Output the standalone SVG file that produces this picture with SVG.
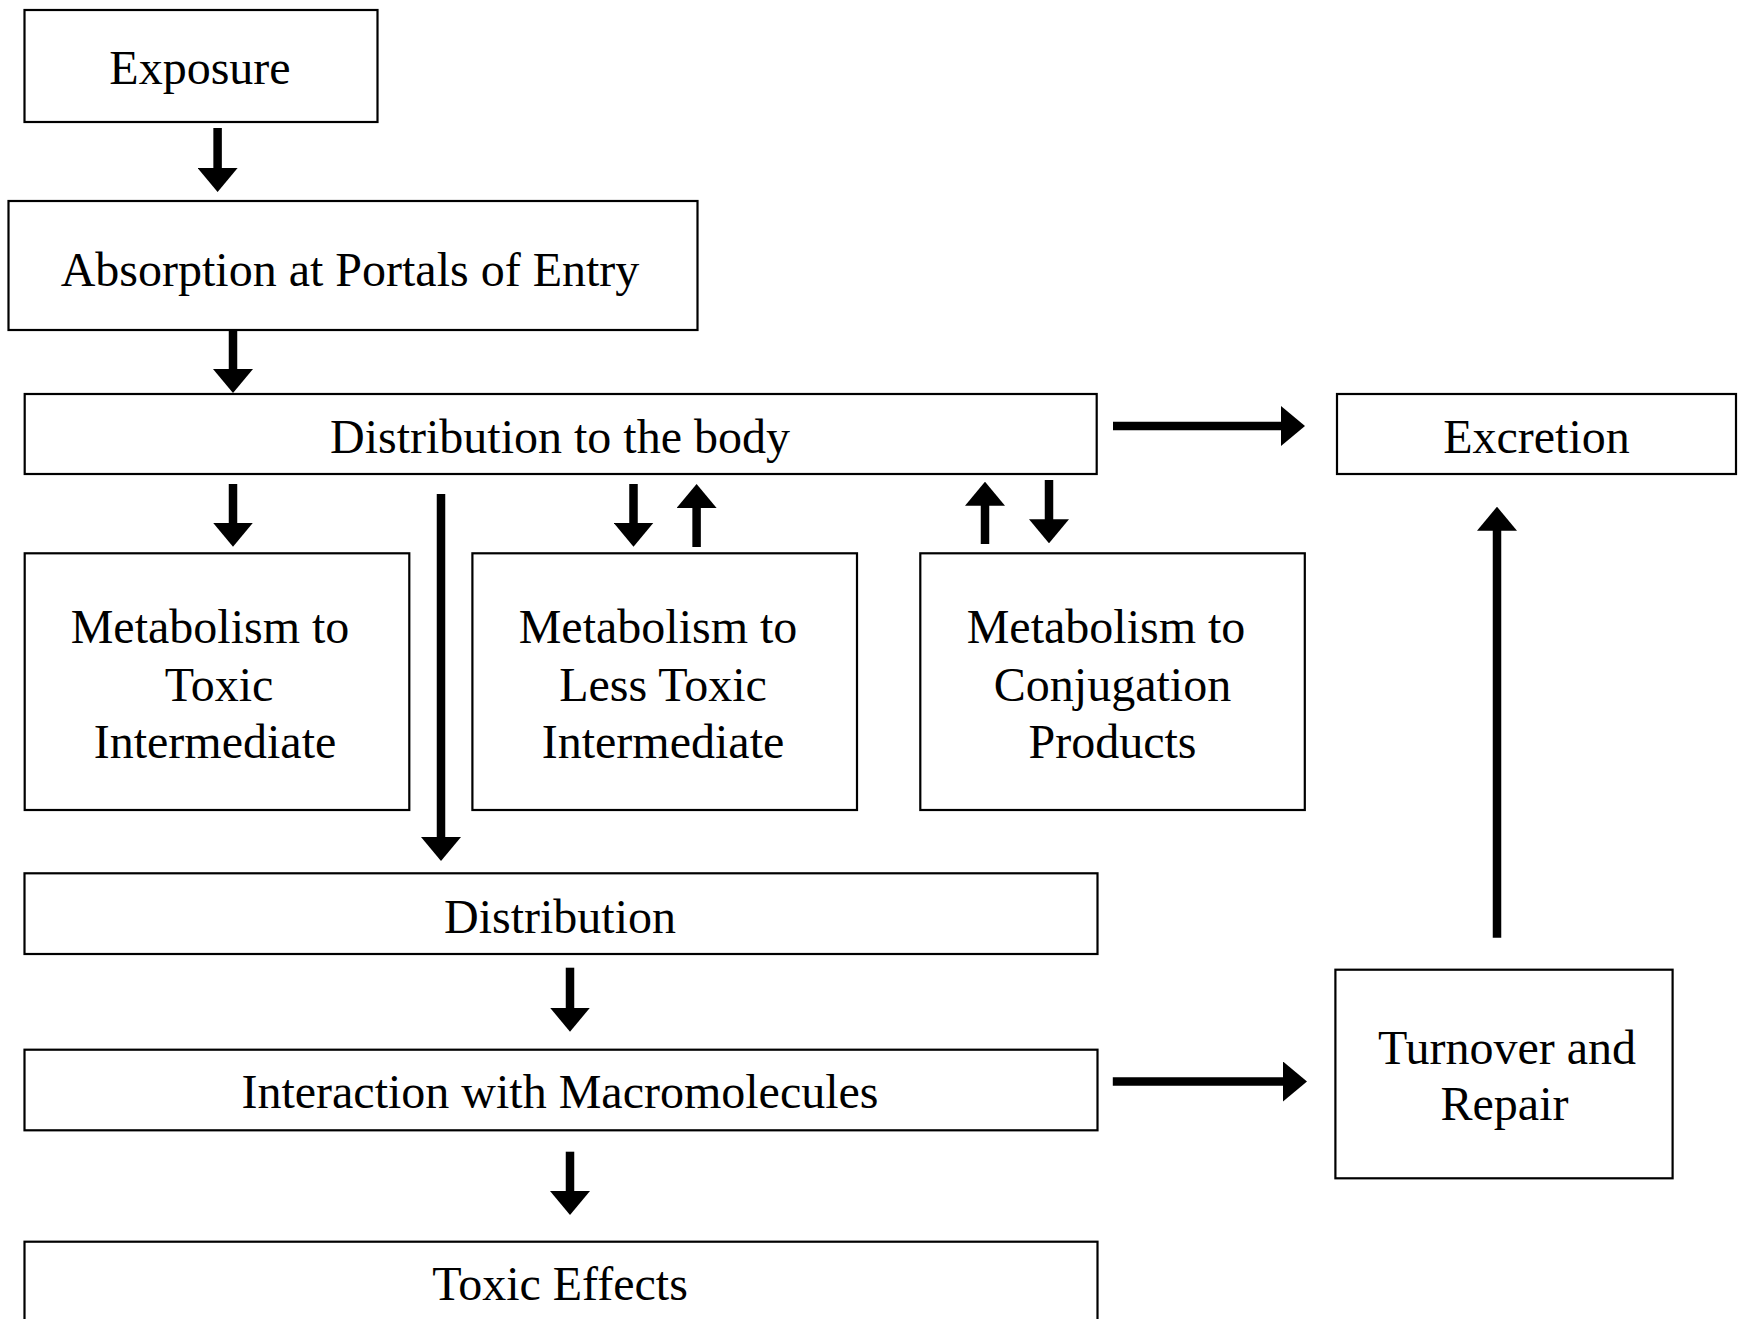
<svg xmlns="http://www.w3.org/2000/svg" width="1745" height="1319" viewBox="0 0 1745 1319">
<defs>
<style>
.box{fill:#fff;stroke:#000;stroke-width:2.2}
.lbl{font-family:"Liberation Serif","Times New Roman",serif;font-size:48px;fill:#000;text-anchor:middle}
.arr{stroke:#000;stroke-width:8.5;fill:none;marker-end:url(#ah)}
</style>
<marker id="ah" viewBox="0 0 24 40" refX="1" refY="20" markerWidth="24" markerHeight="40" markerUnits="userSpaceOnUse" orient="auto">
<path d="M0,0 L24,20 L0,40 Z" fill="#000"/>
</marker>
</defs>
<rect width="1745" height="1319" fill="#fff"/>
<g id="exposure"><rect class="box" x="24.5" y="10" width="353" height="112"/>
<text class="lbl" x="200" y="84">Exposure</text></g>
<g id="absorption"><rect class="box" x="8.5" y="201" width="689" height="129"/>
<text class="lbl" x="350" y="286">Absorption at Portals of Entry</text></g>
<g id="dist-body"><rect class="box" x="24.7" y="394" width="1072" height="80"/>
<text class="lbl" x="560" y="452.5">Distribution to the body</text></g>
<g id="excretion"><rect class="box" x="1337" y="394" width="399" height="80"/>
<text class="lbl" x="1536.5" y="452.5">Excretion</text></g>
<g id="met-toxic"><rect class="box" x="24.7" y="553.3" width="384.6" height="256.7"/>
<text class="lbl" x="210" y="642.5">Metabolism to</text>
<text class="lbl" x="219" y="700.5">Toxic</text>
<text class="lbl" x="215" y="757.5">Intermediate</text></g>
<g id="met-less"><rect class="box" x="472.4" y="553.3" width="384.6" height="256.7"/>
<text class="lbl" x="658" y="642.5">Metabolism to</text>
<text class="lbl" x="663" y="700.5">Less Toxic</text>
<text class="lbl" x="663" y="757.5">Intermediate</text></g>
<g id="met-conj"><rect class="box" x="920.3" y="553.3" width="384.5" height="256.7"/>
<text class="lbl" x="1106" y="642.5">Metabolism to</text>
<text class="lbl" x="1112.5" y="700.5">Conjugation</text>
<text class="lbl" x="1112.5" y="757.5">Products</text></g>
<g id="distribution"><rect class="box" x="24.5" y="873.3" width="1073" height="80.7"/>
<text class="lbl" x="560" y="932.5">Distribution</text></g>
<g id="interaction"><rect class="box" x="24.5" y="1049.7" width="1073" height="80.6"/>
<text class="lbl" x="560" y="1107.5">Interaction with Macromolecules</text></g>
<g id="turnover"><rect class="box" x="1335.4" y="969.7" width="337.2" height="208.6"/>
<text class="lbl" x="1507" y="1063.5">Turnover and</text>
<text class="lbl" x="1504.5" y="1120">Repair</text></g>
<g id="toxic-effects"><rect class="box" x="24.5" y="1241.7" width="1073" height="100"/>
<text class="lbl" x="560" y="1300">Toxic Effects</text></g>
<g id="connectors">
<line class="arr" x1="217.6" y1="128" x2="217.6" y2="169"/>
<line class="arr" x1="233" y1="330" x2="233" y2="370"/>
<line class="arr" x1="233" y1="484" x2="233" y2="523.7"/>
<line class="arr" x1="441" y1="494" x2="441" y2="838"/>
<line class="arr" x1="633.5" y1="484" x2="633.5" y2="523.7"/>
<line class="arr" x1="696.6" y1="547" x2="696.6" y2="507"/>
<line class="arr" x1="985" y1="544" x2="985" y2="504.7"/>
<line class="arr" x1="1049" y1="480" x2="1049" y2="520.3"/>
<line class="arr" x1="1113" y1="426" x2="1282" y2="426"/>
<line class="arr" x1="1497" y1="937.7" x2="1497" y2="529.7"/>
<line class="arr" x1="570" y1="967.7" x2="570" y2="1008.7"/>
<line class="arr" x1="1112.8" y1="1081.5" x2="1284" y2="1081.5"/>
<line class="arr" x1="570" y1="1151.7" x2="570" y2="1192"/>
</g>
</svg>
